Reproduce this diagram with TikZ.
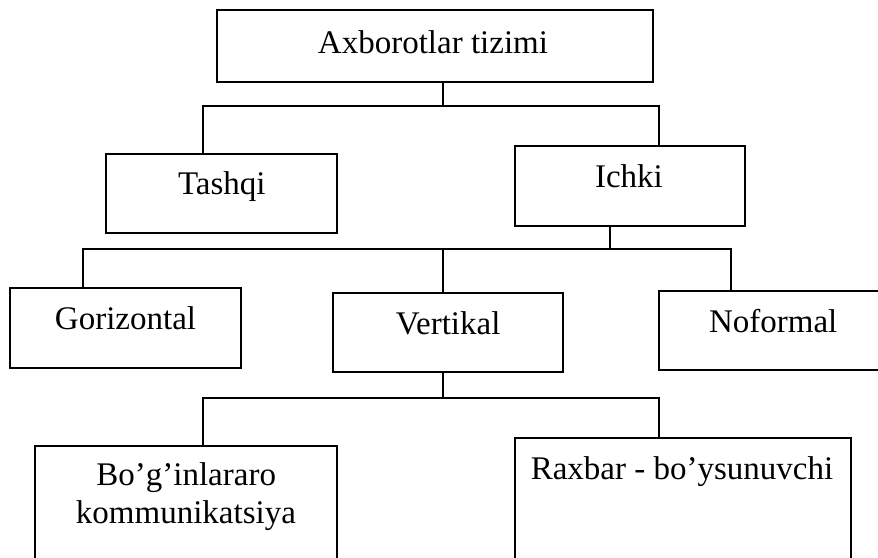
\documentclass[tikz,border=0pt]{standalone}
\usepackage{fontspec}
\setmainfont{Liberation Serif}
\begin{document}
\begin{tikzpicture}[x=1pt,y=-1pt,
  box/.style={draw,line width=2pt,rectangle,inner sep=0pt},
  lbl/.style={anchor=base,inner sep=0pt,font=\fontsize{33}{38}\selectfont},
  link/.style={line width=2pt,line join=miter}]
  \useasboundingbox (0,0) rectangle (878,557);
  \clip (0,0) rectangle (878,557);

  % boxes, placed by their corners
  \node[box,minimum width=436pt,minimum height=72pt] (top) at (434.5,45.5) {};
  \node[box,minimum width=231pt,minimum height=79pt] (tashqi) at (221.7,193) {};
  \node[box,minimum width=230pt,minimum height=80pt] (ichki) at (629.9,186) {};
  \node[box,minimum width=231pt,minimum height=80pt] (goriz) at (125.4,328.3) {};
  \node[box,minimum width=230pt,minimum height=79pt] (vert) at (447.9,332.2) {};
  \node[box,minimum width=232pt,minimum height=79pt] (nofor) at (774.5,330.4) {};
  \node[box,minimum width=302pt,minimum height=200pt] (bogin) at (185.9,545.7) {};
  \node[box,minimum width=336pt,minimum height=210pt] (raxbar) at (683,543.3) {};

  % labels
  \node[lbl] (ttop) at (433,53.5) {Axborotlar tizimi};
  \node[lbl] (ttashqi) at (221.8,194.3) {Tashqi};
  \node[lbl] (tichki) at (629,187.3) {Ichki};
  \node[lbl] (tgoriz) at (125.5,329.3) {Gorizontal};
  \node[lbl] (tvert) at (448.2,334) {Vertikal};
  \node[lbl] (tnofor) at (773.2,332) {Noformal};
  \node[lbl] (tbogin1) at (186.2,485) {Bo’g’inlararo};
  \node[lbl] (tbogin2) at (185.9,523.3) {kommunikatsiya};
  \node[lbl] (traxbar) at (682,479.3) {Raxbar - bo’ysunuvchi};

  % junction points of the connector lines
  \coordinate (s1) at (443,106);
  \coordinate (b1l) at (202.7,106);
  \coordinate (b1r) at (659,106);
  \coordinate (s2) at (610.3,249.3);
  \coordinate (b2l) at (82.9,249.3);
  \coordinate (b2m) at (443,249.3);
  \coordinate (b2r) at (730.7,249.3);
  \coordinate (s3) at (443,397.7);
  \coordinate (b3l) at (202.7,397.7);
  \coordinate (b3r) at (659,397.7);

  % first level
  \draw[link] (top.south -| s1) -- (s1);
  \draw[link] (tashqi.north -| b1l) -- (b1l) -- (b1r) -- (ichki.north -| b1r);
  % second level
  \draw[link] (ichki.south -| s2) -- (s2);
  \draw[link] (goriz.north -| b2l) -- (b2l) -- (b2r) -- (nofor.north -| b2r);
  \draw[link] (b2m) -- (vert.north -| b2m);
  % third level
  \draw[link] (vert.south -| s3) -- (s3);
  \draw[link] (bogin.north -| b3l) -- (b3l) -- (b3r) -- (raxbar.north -| b3r);
\end{tikzpicture}
\end{document}
